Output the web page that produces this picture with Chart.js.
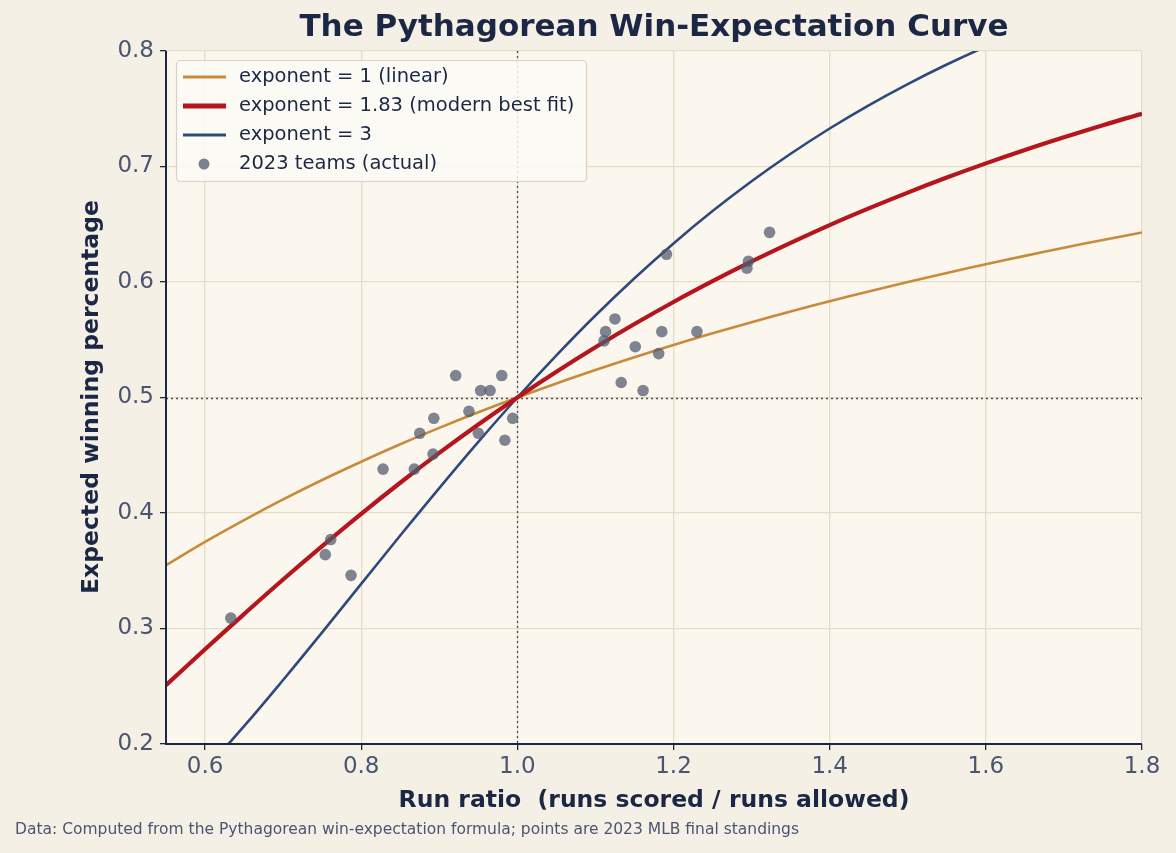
<!DOCTYPE html>
<html lang="en">
<head>
    <meta charset="UTF-8">
    <title>The Pythagorean Win-Expectation Curve</title>
    <script src="https://cdn.jsdelivr.net/npm/chart.js"></script>
    <style>
        html, body { margin: 0; padding: 0; background: #f5f0e6; }
        #wrap { width: 1176px; height: 853px; }
    </style>
</head>
<body>
    <div id="wrap"><canvas id="pythChart" width="1176" height="853"></canvas></div>

    <script>
        // run ratio sample points for the curves
        const ratios = [0.55, 0.60, 0.65, 0.70, 0.75, 0.80, 0.85, 0.90, 0.95, 1.00, 1.05, 1.10, 1.15,
                        1.20, 1.25, 1.30, 1.35, 1.40, 1.45, 1.50, 1.55, 1.60, 1.65, 1.70, 1.75, 1.80];
        const expLinear = [0.3548, 0.3750, 0.3939, 0.4118, 0.4286, 0.4444, 0.4595, 0.4737, 0.4872, 0.5000,
                           0.5122, 0.5238, 0.5349, 0.5455, 0.5556, 0.5652, 0.5745, 0.5833, 0.5918, 0.6000,
                           0.6078, 0.6154, 0.6226, 0.6296, 0.6364, 0.6429];
        const expBestFit = [0.2509, 0.2820, 0.3125, 0.3424, 0.3713, 0.3993, 0.4262, 0.4520, 0.4766, 0.5000,
                            0.5223, 0.5435, 0.5636, 0.5827, 0.6007, 0.6178, 0.6339, 0.6493, 0.6637, 0.6774,
                            0.6904, 0.7027, 0.7143, 0.7253, 0.7358, 0.7457];
        const expCubed = [0.1426, 0.1776, 0.2154, 0.2554, 0.2967, 0.3386, 0.3805, 0.4216, 0.4616, 0.5000,
                          0.5365, 0.5710, 0.6033, 0.6334, 0.6614, 0.6872, 0.7110, 0.7329, 0.7530, 0.7714,
                          0.7883, 0.8038, 0.8179, 0.8309, 0.8428, 0.8536];

        // 2023 teams: run ratio and actual winning pct
        const teamRatio = [0.633, 0.754, 0.761, 0.787, 0.828, 0.868, 0.875, 0.892, 0.893, 0.921,
                           0.938, 0.950, 0.953, 0.965, 0.980, 0.984, 0.994, 1.113, 1.111, 1.125,
                           1.151, 1.133, 1.161, 1.181, 1.185, 1.191, 1.230, 1.294, 1.296, 1.323];
        const teamPct = [0.309, 0.364, 0.377, 0.346, 0.438, 0.438, 0.469, 0.451, 0.482, 0.519,
                         0.488, 0.469, 0.506, 0.506, 0.519, 0.463, 0.482, 0.557, 0.549, 0.568,
                         0.544, 0.513, 0.506, 0.538, 0.557, 0.624, 0.557, 0.612, 0.618, 0.643];

        const xTicks = [0.6, 0.8, 1.0, 1.2, 1.4, 1.6, 1.8];
        const yTicks = [0.2, 0.3, 0.4, 0.5, 0.6, 0.7, 0.8];

        const ink = "#1b2744";
        const tickInk = "#4a5570";
        const font = "'DejaVu Sans', sans-serif";

        function toPoints(xs, ys) {
            return xs.map((x, i) => ({ x: x, y: ys[i] }));
        }

        const legendItems = [
            { label: "exponent = 1 (linear)", color: "#c98a3a", width: 3, type: "line" },
            { label: "exponent = 1.83 (modern best fit)", color: "#b5161e", width: 5, type: "line" },
            { label: "exponent = 3", color: "#2e4a7a", width: 3, type: "line" },
            { label: "2023 teams (actual)", color: "rgba(80,88,108,0.75)", type: "dot" }
        ];

        const decorPlugin = {
            id: "decor",
            beforeDraw(chart) {
                const c = chart.ctx, a = chart.chartArea;
                c.save();
                c.fillStyle = "#f5f0e6";
                c.fillRect(0, 0, chart.width, chart.height);
                c.fillStyle = "#fbf7ef";
                c.fillRect(a.left, a.top, a.right - a.left, a.bottom - a.top);
                c.restore();
            },
            beforeDatasetsDraw(chart) {
                const c = chart.ctx, a = chart.chartArea;
                const xs = chart.scales.x, ys = chart.scales.y;
                c.save();
                c.strokeStyle = "#4a4f5c";
                c.lineWidth = 1.3;
                c.setLineDash([2, 3]);
                const px = Math.round(xs.getPixelForValue(1.0)) + 0.5;
                const py = Math.round(ys.getPixelForValue(0.5)) + 0.5;
                c.beginPath();
                c.moveTo(px, a.top); c.lineTo(px, a.bottom);
                c.moveTo(a.left, py); c.lineTo(a.right, py);
                c.stroke();
                c.restore();
            },
            afterDraw(chart) {
                const c = chart.ctx, a = chart.chartArea;
                c.save();
                // axis spines
                c.strokeStyle = ink;
                c.lineWidth = 2;
                c.beginPath();
                c.moveTo(a.left, a.top); c.lineTo(a.left, a.bottom); c.lineTo(a.right, a.bottom);
                c.stroke();

                // title
                c.fillStyle = ink;
                c.textAlign = "center";
                c.textBaseline = "middle";
                c.font = "bold 31px " + font;
                c.fillText("The Pythagorean Win-Expectation Curve", 654, 28);

                // axis titles
                c.font = "bold 23.5px " + font;
                c.fillText("Run ratio  (runs scored / runs allowed)", 654, 801);
                c.save();
                c.translate(92, 397);
                c.rotate(-Math.PI / 2);
                c.fillText("Expected winning percentage", 0, 0);
                c.restore();

                // footnote
                c.fillStyle = tickInk;
                c.textAlign = "left";
                c.font = "15.5px " + font;
                c.fillText("Data: Computed from the Pythagorean win-expectation formula; points are 2023 MLB final standings", 15, 830);

                // legend box
                const bx = 176, by = 60, bw = 410, bh = 121;
                c.fillStyle = "rgba(252,250,245,0.85)";
                c.strokeStyle = "#d6d2c8";
                c.lineWidth = 1.2;
                c.beginPath();
                c.roundRect(bx + 0.5, by + 0.5, bw, bh, 4);
                c.fill();
                c.stroke();
                c.font = "19.5px " + font;
                c.textBaseline = "middle";
                legendItems.forEach((it, i) => {
                    const y = by + 17 + i * 29;
                    if (it.type === "line") {
                        c.strokeStyle = it.color;
                        c.lineWidth = it.width;
                        c.beginPath();
                        c.moveTo(bx + 7, y); c.lineTo(bx + 50, y);
                        c.stroke();
                    } else {
                        c.fillStyle = it.color;
                        c.beginPath();
                        c.arc(bx + 28, y, 5.5, 0, Math.PI * 2);
                        c.fill();
                    }
                    c.fillStyle = ink;
                    c.fillText(it.label, bx + 63, y);
                });
                c.restore();
            }
        };

        const ctx = document.getElementById("pythChart").getContext("2d");
        const chart = new Chart(ctx, {
            type: "line",
            data: {
                datasets: [
                    {
                        label: "exponent = 1 (linear)",
                        data: toPoints(ratios, expLinear),
                        borderColor: "#c98a3a",
                        borderWidth: 2.6,
                        pointRadius: 0,
                        tension: 0.4,
                        order: 3
                    },
                    {
                        label: "exponent = 1.83 (modern best fit)",
                        data: toPoints(ratios, expBestFit),
                        borderColor: "#b5161e",
                        borderWidth: 4.2,
                        pointRadius: 0,
                        tension: 0.4,
                        order: 1
                    },
                    {
                        label: "exponent = 3",
                        data: toPoints(ratios, expCubed),
                        borderColor: "#2e4a7a",
                        borderWidth: 2.6,
                        pointRadius: 0,
                        tension: 0.4,
                        order: 2
                    },
                    {
                        type: "scatter",
                        label: "2023 teams (actual)",
                        data: toPoints(teamRatio, teamPct),
                        backgroundColor: "rgba(80,88,108,0.72)",
                        borderWidth: 0,
                        pointRadius: 5.8,
                        order: 0
                    }
                ]
            },
            plugins: [decorPlugin],
            options: {
                responsive: false,
                animation: false,
                layout: { padding: { top: 51, right: 34, bottom: 0, left: 0 } },
                plugins: {
                    legend: { display: false },
                    tooltip: { enabled: false }
                },
                scales: {
                    x: {
                        type: "linear",
                        min: 0.55,
                        max: 1.8,
                        afterBuildTicks: (s) => { s.ticks = xTicks.map(v => ({ value: v })); },
                        afterFit: (s) => { s.height = 109; },
                        border: { display: false },
                        grid: { color: "#e6ddc6", lineWidth: 1.3, tickColor: ink, tickLength: 6 },
                        ticks: {
                            color: tickInk,
                            font: { family: font, size: 23 },
                            padding: 3,
                            callback: (v) => Number(v).toFixed(1)
                        },
                        title: { display: false }
                    },
                    y: {
                        min: 0.2,
                        max: 0.8,
                        afterBuildTicks: (s) => { s.ticks = yTicks.map(v => ({ value: v })); },
                        afterFit: (s) => { s.width = 166; },
                        border: { display: false },
                        grid: { color: "#e6ddc6", lineWidth: 1.3, tickColor: ink, tickLength: 6 },
                        ticks: {
                            color: tickInk,
                            font: { family: font, size: 23 },
                            padding: 6,
                            callback: (v) => Number(v).toFixed(1)
                        },
                        title: { display: false }
                    }
                }
            }
        });
    </script>
</body>
</html>
